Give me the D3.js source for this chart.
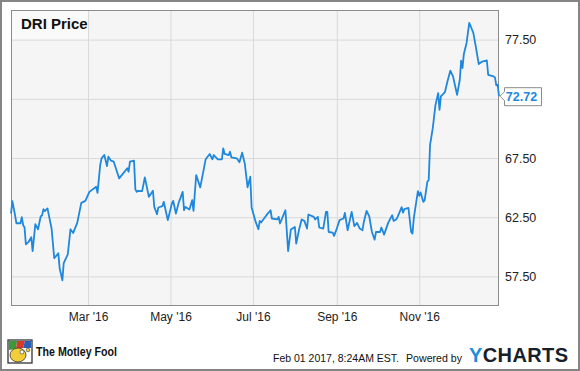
<!DOCTYPE html>
<html>
<head>
	<meta charset="UTF-8">
	<script src="https://cdn.jsdelivr.net/npm/d3@7"></script>
	<title>DRI Price</title>
	<style>
		body { margin: 0; background: #fff; }
		svg { display: block; font-family: "Liberation Sans", Arial, sans-serif; }
	</style>
</head>
<body>
	<svg></svg>
	<script type="text/javascript">

		// closing prices
		const dates = [
			"2016-01-04","2016-01-05","2016-01-07","2016-01-08","2016-01-11","2016-01-12","2016-01-13","2016-01-14","2016-01-15","2016-01-17","2016-01-19","2016-01-20","2016-01-22","2016-01-24","2016-01-26","2016-01-27","2016-01-28","2016-01-29","2016-01-31",
			"2016-02-02","2016-02-03","2016-02-05","2016-02-08","2016-02-09","2016-02-11","2016-02-12","2016-02-15","2016-02-17","2016-02-19","2016-02-22","2016-02-25","2016-02-28",
			"2016-03-02","2016-03-07","2016-03-08","2016-03-10","2016-03-11","2016-03-13","2016-03-15","2016-03-16","2016-03-18","2016-03-20","2016-03-22","2016-03-24","2016-03-27","2016-03-30","2016-03-31",
			"2016-04-01","2016-04-04","2016-04-05","2016-04-06","2016-04-07","2016-04-10","2016-04-12","2016-04-15","2016-04-18","2016-04-19","2016-04-21","2016-04-22","2016-04-25","2016-04-26","2016-04-29",
			"2016-05-02","2016-05-03","2016-05-05","2016-05-07","2016-05-10","2016-05-11","2016-05-12","2016-05-15","2016-05-17","2016-05-18","2016-05-20","2016-05-23","2016-05-25","2016-05-27","2016-05-30",
			"2016-06-01","2016-06-02","2016-06-05","2016-06-08","2016-06-09","2016-06-10","2016-06-13","2016-06-14","2016-06-15","2016-06-19","2016-06-21","2016-06-23","2016-06-25","2016-06-27","2016-06-29","2016-06-30",
			"2016-07-03","2016-07-05","2016-07-06","2016-07-07","2016-07-11","2016-07-14","2016-07-15","2016-07-19","2016-07-20","2016-07-21","2016-07-25","2016-07-27","2016-07-29",
			"2016-08-01","2016-08-02","2016-08-04","2016-08-06","2016-08-08","2016-08-10","2016-08-11","2016-08-15","2016-08-16","2016-08-18","2016-08-19","2016-08-22","2016-08-24","2016-08-25","2016-08-26","2016-08-29","2016-08-30",
			"2016-09-01","2016-09-03","2016-09-06","2016-09-07","2016-09-09","2016-09-12","2016-09-14","2016-09-16","2016-09-18","2016-09-20","2016-09-21","2016-09-23","2016-09-25","2016-09-27","2016-09-29","2016-09-30",
			"2016-10-03","2016-10-04","2016-10-06","2016-10-09","2016-10-12","2016-10-13","2016-10-15","2016-10-16","2016-10-19","2016-10-20","2016-10-21","2016-10-24","2016-10-26","2016-10-27","2016-10-28","2016-10-31",
			"2016-11-01","2016-11-02","2016-11-04","2016-11-05","2016-11-07","2016-11-08","2016-11-09","2016-11-11","2016-11-13","2016-11-15","2016-11-16","2016-11-17","2016-11-20","2016-11-22","2016-11-24","2016-11-26","2016-11-28","2016-11-29",
			"2016-12-01","2016-12-02","2016-12-03","2016-12-04","2016-12-06","2016-12-08","2016-12-10","2016-12-11","2016-12-13","2016-12-15","2016-12-17","2016-12-21","2016-12-22","2016-12-26","2016-12-27","2016-12-28","2016-12-29","2016-12-30"
		];

		const prices = [
			62.81,63.86,62.67,61.99,61.99,62.50,61.82,61.65,60.21,60.41,60.81,59.64,61.91,61.48,62.58,62.64,63.18,63.01,63.24,
			62.10,61.57,59.03,59.45,58.18,57.16,58.63,59.36,61.48,61.17,62.02,63.71,63.88,
			64.64,65.07,64.56,66.91,67.47,67.75,66.82,67.61,67.27,67.19,66.48,65.78,66.20,66.63,66.34,
			67.19,67.27,64.85,64.64,64.73,64.70,65.86,64.22,64.73,63.37,62.75,63.32,63.43,63.80,62.25,
			63.66,63.88,62.81,63.71,64.64,63.09,63.37,63.15,63.94,63.03,66.06,65.02,66.20,67.39,67.84,
			67.39,67.75,67.39,67.39,68.32,67.84,67.75,68.03,67.56,67.47,67.14,67.95,66.99,65.02,65.92,63.32,
			62.10,61.48,62.19,62.05,62.67,63.09,62.39,62.31,62.53,61.97,63.09,59.64,61.46,
			61.68,60.27,61.40,62.31,62.19,61.54,62.73,62.53,62.31,62.53,61.63,61.54,62.95,62.95,61.25,61.20,60.92,
			61.54,62.25,62.39,62.86,61.40,62.95,61.74,62.02,61.54,61.40,62.10,63.03,62.58,61.25,60.61,61.25,
			61.25,61.63,61.03,62.02,62.67,62.19,62.31,62.53,63.35,62.88,63.18,63.29,61.25,61.12,62.44,64.70,
			64.31,64.59,63.80,63.94,65.49,65.64,68.60,70.02,71.99,72.98,71.57,72.70,73.07,74.03,74.87,74.39,73.35,72.84,
			74.11,75.72,75.10,76.29,77.22,78.92,78.35,78.07,76.80,75.44,75.61,75.75,74.53,74.39,74.31,73.63,73.69,72.72
		];

		const yTicks = [57.5, 62.5, 67.5, 72.5, 77.5];
		const yDomain = [55, 80];
		const dateDomain = ["2016-01-04", "2016-12-30"];

		const title = "DRI Price";
		const stamp = "Feb 01 2017, 8:24AM EST.";

		const width = 580;
		const height = 371;
		const margin = {top: 10, right: 81, bottom: 65, left: 11};
		const blue = "#1f87dc";

		const parse = d3.timeParse("%Y-%m-%d");
		const data = dates.map((d, i) => ({date: parse(d), value: prices[i]}));

		const x = d3.scaleTime()
			.domain(dateDomain.map(parse))
			.range([margin.left, width - margin.right]);

		const y = d3.scaleLinear()
			.domain(yDomain)
			.range([height - margin.bottom, margin.top]);

		const svg = d3.select("svg")
			.attr("width", width)
			.attr("height", height)
			.attr("viewBox", [0, 0, width, height]);

		// outer frame
		svg.append("rect")
			.attr("x", 1).attr("y", 1)
			.attr("width", width - 2).attr("height", height - 2)
			.attr("fill", "#fff")
			.attr("stroke", "#858585")
			.attr("stroke-width", 2);

		// plot background
		svg.append("rect")
			.attr("x", margin.left).attr("y", margin.top)
			.attr("width", width - margin.left - margin.right)
			.attr("height", height - margin.top - margin.bottom)
			.attr("fill", "#f5f5f5");

		svg.append("rect")
			.attr("x", margin.left).attr("y", margin.top)
			.attr("width", x(d3.timeMonth.floor(x.invert(90))) - margin.left)
			.attr("height", y(77.5) - margin.top)
			.attr("fill", "#fafafa");

		// grid
		const last = data[data.length - 1];

		svg.append("g")
			.attr("transform", `translate(0,${height - margin.bottom})`)
			.call(d3.axisBottom(x).ticks(d3.timeMonth.every(2)).tickSize(-(height - margin.top - margin.bottom)).tickFormat(""))
			.call(g => g.select(".domain").remove())
			.call(g => g.selectAll(".tick line").attr("stroke", "#d9d9d9"));

		svg.append("g")
			.attr("transform", `translate(${width - margin.right},0)`)
			.call(d3.axisRight(y).tickValues(yTicks).tickSize(-(width - margin.left - margin.right)).tickFormat(""))
			.call(g => g.select(".domain").remove())
			.call(g => g.selectAll(".tick line").attr("stroke", "#d9d9d9"));

		// plot border
		svg.append("rect")
			.attr("x", margin.left + 0.5).attr("y", margin.top + 0.5)
			.attr("width", width - margin.left - margin.right - 1)
			.attr("height", height - margin.top - margin.bottom - 1)
			.attr("fill", "none")
			.attr("stroke", "#8c8c8c");

		svg.append("text")
			.attr("x", 21)
			.attr("y", 29)
			.attr("font-size", 15)
			.attr("font-weight", "bold")
			.attr("fill", "#111")
			.text(title);

		// axis labels
		svg.append("g")
			.attr("transform", `translate(0,${height - margin.bottom})`)
			.call(d3.axisBottom(x).ticks(d3.timeMonth.every(2)).tickSize(0).tickPadding(6).tickFormat(d3.timeFormat("%b '%y")))
			.call(g => g.select(".domain").remove())
			.call(g => g.selectAll("text").attr("font-size", 12).attr("font-family", null).attr("fill", "#222"));

		svg.append("g")
			.attr("transform", `translate(${width - margin.right},0)`)
			.call(d3.axisRight(y).tickValues(yTicks.filter(v => Math.abs(y(v) - y(last.value)) > 12)).tickSize(0).tickPadding(6).tickFormat(d3.format(".2f")))
			.call(g => g.select(".domain").remove())
			.call(g => g.selectAll("text").attr("font-size", 12.5).attr("font-family", null).attr("fill", "#222"));

		// price line
		const line = d3.line()
			.x(d => x(d.date))
			.y(d => y(d.value));

		svg.append("path")
			.datum(data)
			.attr("fill", "none")
			.attr("stroke", blue)
			.attr("stroke-width", 1.8)
			.attr("stroke-linejoin", "round")
			.attr("d", line);

		// last value flag
		const lx = x(last.date), ly = y(last.value);
		svg.append("path")
			.attr("d", `M${lx + 1},${ly} L${lx + 5.5},${ly - 4.5} L${lx + 5.5},${ly - 8.5} L${lx + 42.5},${ly - 8.5} L${lx + 42.5},${ly + 9.5} L${lx + 5.5},${ly + 9.5} L${lx + 5.5},${ly + 4.5} Z`)
			.attr("fill", "#fff")
			.attr("stroke", "#8c8c8c");

		svg.append("text")
			.attr("x", lx + 22.5)
			.attr("y", ly + 5)
			.attr("text-anchor", "middle")
			.attr("font-size", 12.5)
			.attr("font-weight", "bold")
			.attr("fill", blue)
			.text(d3.format(".2f")(last.value));

		// footer: Motley Fool mark
		const logo = svg.append("g").attr("transform", "translate(8,340)");
		logo.append("rect").attr("width", 24).attr("height", 23).attr("fill", "#fff").attr("stroke", "#222").attr("stroke-width", 1.2);
		logo.append("path").attr("d", "M1,1 L9,1 L8,9 L1,10 Z").attr("fill", "#3a9a3a");
		logo.append("path").attr("d", "M9,1 L17,1 L15,8 L8,9 Z").attr("fill", "#d63a2a");
		logo.append("path").attr("d", "M17,1 L23,1 L23,8 L15,8 Z").attr("fill", "#2a5fb8");
		logo.append("ellipse").attr("cx", 10).attr("cy", 15).attr("rx", 8).attr("ry", 7).attr("fill", "#f2cf3a").attr("stroke", "#333").attr("stroke-width", 0.8);
		logo.append("circle").attr("cx", 14).attr("cy", 12).attr("r", 2).attr("fill", "#fff").attr("stroke", "#333").attr("stroke-width", 0.6);
		logo.append("circle").attr("cx", 20).attr("cy", 10).attr("r", 1.8).attr("fill", "#f2cf3a").attr("stroke", "#333").attr("stroke-width", 0.6);

		svg.append("text")
			.attr("x", 36)
			.attr("y", 356)
			.attr("font-size", 12.5)
			.attr("font-weight", "bold")
			.attr("fill", "#111")
			.attr("textLength", 81)
			.attr("lengthAdjust", "spacingAndGlyphs")
			.text("The Motley Fool");

		svg.append("text")
			.attr("x", 273)
			.attr("y", 362)
			.attr("font-size", 11.5)
			.attr("fill", "#111")
			.attr("textLength", 126)
			.attr("lengthAdjust", "spacingAndGlyphs")
			.text(stamp);

		svg.append("text")
			.attr("x", 406)
			.attr("y", 362)
			.attr("font-size", 11.5)
			.attr("fill", "#111")
			.attr("textLength", 56)
			.attr("lengthAdjust", "spacingAndGlyphs")
			.text("Powered by");

		const yc = svg.append("text")
			.attr("x", 469)
			.attr("y", 362)
			.attr("font-size", 20)
			.attr("font-weight", "bold")
			.attr("letter-spacing", 0.4);
		yc.append("tspan").attr("fill", "#1d8ddc").text("Y");
		yc.append("tspan").attr("fill", "#17202b").text("CHARTS");

	</script>
</body>
</html>
